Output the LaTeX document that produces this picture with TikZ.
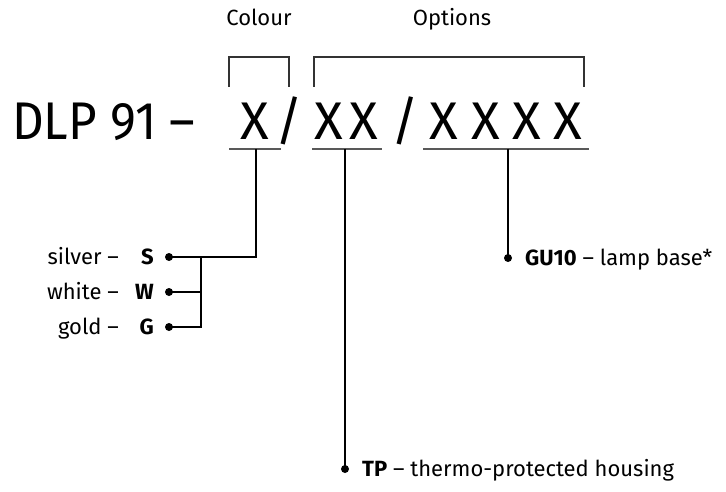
\documentclass[tikz,border=0pt]{standalone}
\usepackage{fontspec}
\setmainfont{Fira Sans}
\begin{document}
\begin{tikzpicture}[x=1pt,y=-1pt,
  big/.style={font=\fontsize{53}{60}\selectfont, inner sep=0pt, anchor=base},
  lbl/.style={font=\fontsize{22}{26}\selectfont, inner sep=0pt},
  dot/.style={circle, fill=black, inner sep=0pt, minimum size=8pt},
  wire/.style={line width=1.4pt, black},
  uline/.style={line width=1.6pt, black!65},
  brk/.style={line width=1.2pt, black!80}]
\useasboundingbox (0,0) rectangle (726,492);
% headers
\node[lbl, anchor=base] (colour) at (259,26) {Colour};
\node[lbl, anchor=base] (options) at (452,26) {Options};
% brackets
\coordinate (cbl) at (229,87); \coordinate (cbr) at (289,87);
\coordinate (obl) at (314,87); \coordinate (obr) at (584,87);
\draw[brk] (cbl) -- (cbl |- 0,57) -- (cbr |- 0,57) -- (cbr);
\draw[brk] (obl) -- (obl |- 0,57) -- (obr |- 0,57) -- (obr);
% main code
\node[big, anchor=base west] (dlp) at (12,140) {\scalebox{0.93}[1]{DLP 91 –}};
\node[big] (x1) at (255,140) {X};
\node[big] (s1) at (289,140) {/};
\node[big] (x2) at (329,140) {X};
\node[big] (x3) at (364,140) {X};
\node[big] (s2) at (405,140) {/};
\node[big] (x4) at (444,140) {X};
\node[big] (x5) at (486,140) {X};
\node[big] (x6) at (527,140) {X};
\node[big] (x7) at (568,140) {X};
% underlines
\coordinate (u1a) at (229,149); \coordinate (u1b) at (281,149);
\coordinate (u2a) at (312,149); \coordinate (u2b) at (382,149);
\coordinate (u3a) at (423,149); \coordinate (u3b) at (589,149);
\draw[uline] (u1a) -- (u1b);
\draw[uline] (u2a) -- (u2b);
\draw[uline] (u3a) -- (u3b);
\coordinate (t1) at (256,149);
\coordinate (t2) at (345,149);
\coordinate (t3) at (508,149);
% dots
\node[dot] (dS) at (169,257) {};
\node[dot] (dW) at (169,292) {};
\node[dot] (dG) at (169,327) {};
\node[dot] (dGU) at (508,258) {};
\node[dot] (dTP) at (345,469) {};
\coordinate (br1) at (201,257);
% wires
\draw[wire] (t1) |- (dS.center);
\draw[wire] (br1) |- (dG.center);
\draw[wire] (dW.center) -- (br1 |- dW);
\draw[wire] (t2) -- (dTP.center);
\draw[wire] (t3) -- (dGU.center);
% labels
\node[lbl, anchor=base east] (ls) at (119,264) {silver –};
\node[lbl, anchor=base east] (ks) at (154,264) {\textbf{S}};
\node[lbl, anchor=base east] (lw) at (119,299) {white –};
\node[lbl, anchor=base east] (kw) at (154,299) {\textbf{W}};
\node[lbl, anchor=base east] (lg) at (119,334) {gold –};
\node[lbl, anchor=base east] (kg) at (154,334) {\textbf{G}};
\node[lbl, anchor=base west] (lgu) at (525,265) {\textbf{GU10} – lamp base*};
\node[lbl, anchor=base west] (ltp) at (362,476) {\textbf{TP} – thermo-protected housing};
\end{tikzpicture}
\end{document}
